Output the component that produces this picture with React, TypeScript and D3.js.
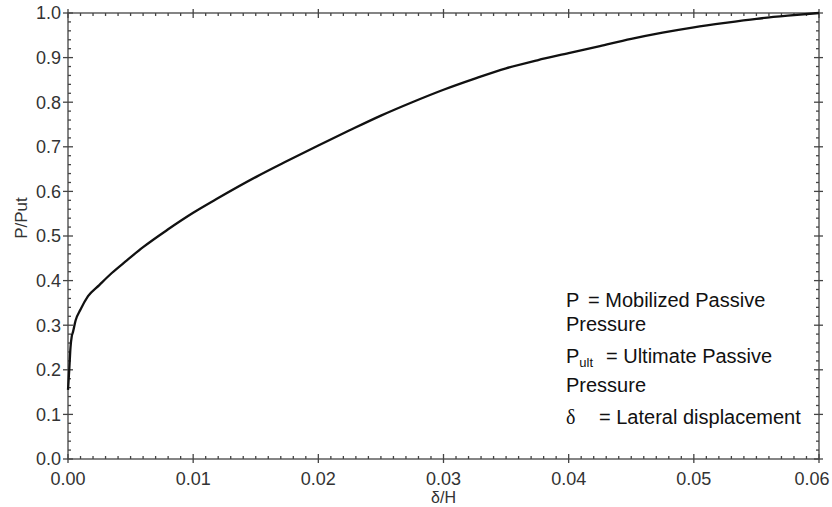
import React, { useEffect, useRef } from 'react';
import * as d3 from 'd3';

// curve (delta/H vs P/Pult)
const deltaH = [0, 0.0001, 0.0002, 0.0003, 0.0004, 0.0006, 0.001, 0.0016, 0.0025, 0.0035, 0.0046, 0.006, 0.008, 0.01, 0.012, 0.015, 0.0175, 0.02, 0.0225, 0.025, 0.0275, 0.03, 0.0325, 0.035, 0.0375, 0.04, 0.0425, 0.045, 0.0475, 0.05, 0.0525, 0.055, 0.0575, 0.06];
const pRatio = [0.155, 0.2, 0.25, 0.275, 0.285, 0.31, 0.335, 0.365, 0.39, 0.417, 0.443, 0.475, 0.515, 0.552, 0.585, 0.632, 0.668, 0.703, 0.737, 0.77, 0.8, 0.828, 0.853, 0.876, 0.894, 0.91, 0.926, 0.942, 0.956, 0.968, 0.978, 0.987, 0.994, 1.0];

const xTicks = [0, 0.01, 0.02, 0.03, 0.04, 0.05, 0.06];
const yTicks = [0, 0.1, 0.2, 0.3, 0.4, 0.5, 0.6, 0.7, 0.8, 0.9, 1.0];

const W = 832;
const H = 507;
const margin = { top: 13, right: 13, bottom: 48, left: 68 };
const axisColor = '#444';
const font = '"Liberation Sans", Arial, sans-serif';

export default function App() {
  const svgRef = useRef<SVGSVGElement>(null);

  useEffect(() => {
    const svg = d3.select(svgRef.current);
    svg.selectAll('*').remove();

    const x = d3.scaleLinear().domain([0, 0.06]).range([margin.left, W - margin.right]);
    const y = d3.scaleLinear().domain([0, 1]).range([H - margin.bottom, margin.top]);

    const x0 = x.range()[0], x1 = x.range()[1];
    const y0 = y.range()[0], y1 = y.range()[1];

    const frame = svg.append('g').attr('stroke', axisColor).attr('stroke-width', 1.3);
    frame.append('rect')
      .attr('x', x0).attr('y', y1)
      .attr('width', x1 - x0).attr('height', y0 - y1)
      .attr('fill', 'none');

    // minor ticks, inside only
    const xMinor = d3.range(0, 61).map(i => i / 1000).filter(v => Math.round(v * 1000) % 10 !== 0);
    const yMinor = d3.range(0, 51).map(i => i / 50).filter(v => Math.round(v * 50) % 5 !== 0);

    xMinor.forEach(v => {
      frame.append('line').attr('x1', x(v)).attr('x2', x(v)).attr('y1', y0).attr('y2', y0 - 3);
      frame.append('line').attr('x1', x(v)).attr('x2', x(v)).attr('y1', y1).attr('y2', y1 + 3);
    });
    yMinor.forEach(v => {
      frame.append('line').attr('y1', y(v)).attr('y2', y(v)).attr('x1', x0).attr('x2', x0 + 3);
      frame.append('line').attr('y1', y(v)).attr('y2', y(v)).attr('x1', x1).attr('x2', x1 - 3);
    });

    // major ticks cross the frame
    xTicks.forEach(v => {
      frame.append('line').attr('x1', x(v)).attr('x2', x(v)).attr('y1', y0 + 4).attr('y2', y0 - 5);
      frame.append('line').attr('x1', x(v)).attr('x2', x(v)).attr('y1', y1 - 4).attr('y2', y1 + 5);
    });
    yTicks.forEach(v => {
      frame.append('line').attr('y1', y(v)).attr('y2', y(v)).attr('x1', x0 - 5).attr('x2', x0 + 5);
      frame.append('line').attr('y1', y(v)).attr('y2', y(v)).attr('x1', x1 + 4).attr('x2', x1 - 5);
    });

    const labels = svg.append('g').attr('font-family', font).attr('fill', '#333');

    labels.selectAll('.xl')
      .data(xTicks)
      .enter().append('text')
      .attr('x', d => Math.min(x(d), W - 20))   // last label is pulled in so it stays on the page
      .attr('y', y0 + 26)
      .attr('text-anchor', 'middle')
      .attr('font-size', 18)
      .text(d => d.toFixed(2));

    labels.selectAll('.yl')
      .data(yTicks)
      .enter().append('text')
      .attr('x', x0 - 7)
      .attr('y', d => y(d))
      .attr('dy', '0.36em')
      .attr('text-anchor', 'end')
      .attr('font-size', 18)
      .text(d => d.toFixed(1));

    labels.append('text')
      .attr('x', (x0 + x1) / 2)
      .attr('y', 503)
      .attr('text-anchor', 'middle')
      .attr('font-size', 16)
      .text('δ/H');

    labels.append('text')
      .attr('transform', 'translate(27,218) rotate(-90)')
      .attr('text-anchor', 'middle')
      .attr('font-size', 17)
      .text('P/Put');

    // the curve
    const line = d3.line<number>()
      .x((d, i) => x(deltaH[i]))
      .y(d => y(d))
      .curve(d3.curveMonotoneX);

    svg.append('path')
      .datum(pRatio)
      .attr('d', line)
      .attr('fill', 'none')
      .attr('stroke', '#111')
      .attr('stroke-width', 2.3);

    // notation block
    const legend = svg.append('g').attr('font-family', font).attr('font-size', 20).attr('fill', '#111');
    legend.append('text').attr('x', 566).attr('y', 307).text('P');
    legend.append('text').attr('x', 588).attr('y', 307).text('= Mobilized Passive');
    legend.append('text').attr('x', 566).attr('y', 331).text('Pressure');

    const pult = legend.append('text').attr('x', 566).attr('y', 363);
    pult.append('tspan').text('P');
    pult.append('tspan').attr('font-size', 13).attr('dy', 4).text('ult');
    legend.append('text').attr('x', 606).attr('y', 363).text('= Ultimate Passive');
    legend.append('text').attr('x', 566).attr('y', 392).text('Pressure');

    legend.append('text').attr('x', 566).attr('y', 424)
      .attr('font-family', '"Liberation Serif", "Times New Roman", serif').text('δ');
    legend.append('text').attr('x', 599).attr('y', 424).text('= Lateral displacement');
  }, []);

  return (
    <svg ref={svgRef} width={W} height={H}
      style={{ position: 'absolute', left: 0, top: 0, background: '#fff' }} />
  );
}
